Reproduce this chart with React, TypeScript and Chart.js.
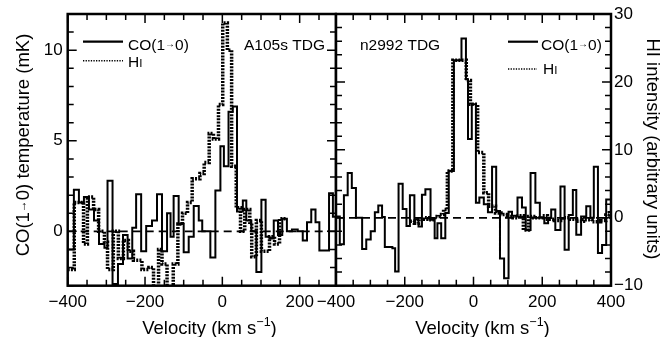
import React, { useEffect, useRef } from "react";
import { Chart, registerables } from "chart.js";

Chart.register(...registerables);

const FONT = "'Liberation Sans', Arial, Helvetica, sans-serif";

// ---------- tick labels ----------
const xTickLabelsLeft = [-400, -200, 0, 200];
const xTickLabelsRight = [-400, -200, 0, 200, 400];
const yTickLabelsLeft = [0, 5, 10];
const yTickLabelsRight = [-10, 0, 10, 20, 30];

// ---------- A105s TDG (left panel, CO temperature in mK) ----------
// channel start velocities (km/s) and values
const a105CoVel = [-400, -384, -371, -358, -345, -332, -319, -305, -297, -284, -270, -257, -245, -233, -223, -210, -197, -182, -169, -156, -143, -134, -126, -113, -100, -87, -74, -61, -52, -31, -18, -5, 4, 16, 27, 38, 53, 62, 75, 88, 101, 112, 122, 133, 144, 155, 167, 180, 195, 208, 219, 230, 241, 251, 276, 286];
const a105CoVal = [-1.0, 2.3, 1.6, 1.9, 1.2, 0.6, -0.7, -0.9, 2.8, -2.9, -1.8, -0.2, -1.5, 0.2, 2.05, -1.1, 0.3, 0.6, 2.05, -1.1, 1.0, -0.3, 1.95, 0.4, -1.15, -0.3, 1.4, 0.6, 0.0, -1.45, 2.25, 4.7, 3.6, 6.6, 6.9, 1.1, 1.7, 0.6, 0.0, -2.25, 1.75, -0.3, -0.4, 0.6, -0.2, 0.7, 0.0, 0.1, 0.0, -0.5, 0.5, 1.2, 0.5, -1.05, 2.1, 0.8];
const a105CoEnd = 294;

const a105HiVel = [-400, -383, -359, -349, -333, -320, -305, -297, -282, -269, -256, -243, -230, -208, -190, -178, -165, -156, -143, -127, -115, -103, -90, -78, -58, -47, -34, -23, -10, 1, 13, 24, 36, 47, 58, 71, 76, 88, 101, 122, 135, 148];
const a105HiVal = [-2.1, 1.6, -0.7, 1.9, 1.2, 0.0, -0.6, -2.1, 0.0, -1.5, -0.5, -1.1, -1.6, -2.1, -2.0, -3.2, -1.0, -1.8, -3.2, -1.8, 0.4, 1.0, 1.6, 2.9, 3.2, 3.8, 5.4, 5.1, 7.0, 11.5, 10.0, 3.6, 1.3, 0.0, 1.2, 0.5, -1.4, 0.6, -1.1, -0.3, -0.7, 0.7];
const a105HiEnd = 165;

// ---------- n2992 TDG (right panel, HI intensity scale) ----------
const n2992CoVel = [-400, -389, -377, -366, -354, -342, -324, -312, -299, -287, -277, -266, -258, -236, -228, -218, -206, -195, -185, -172, -160, -150, -140, -125, -113, -105, -94, -82, -72, -57, -35, -22, -16, -5, 7, 17, 30, 42, 54, 66, 77, 89, 102, 112, 128, 141, 152, 166, 180, 193, 206, 217, 226, 238, 253, 265, 277, 289, 299, 313, 328, 340, 350, 362, 374, 386];
const n2992CoVal = [0.2, -3.9, 3.3, 6.6, 4.4, 0.0, -4.6, -3.2, -2.0, 0.8, 1.8, 0.1, -4.3, -4.5, -7.9, 5.0, 1.3, -1.2, 3.3, -0.2, -1.3, 3.4, 4.2, -0.3, -3.0, -0.8, -3.0, 0.7, 6.9, 23.2, 26.4, 20.4, 11.6, 16.7, 2.2, 3.0, 2.0, 0.8, 7.5, 1.0, -6.0, -8.9, 0.9, 0.3, 3.0, 1.5, -1.8, 6.6, 2.2, 0.0, -0.8, 0.0, 1.2, -1.8, 4.6, -4.7, 0.4, 4.1, -2.5, 0.2, 1.7, 0.0, 7.5, -5.2, -4.0, 2.7];
const n2992CoEnd = 400;

const n2992HiVel = [-185, -172, -160, -148, -136, -124, -112, -100, -87, -76, -60, -21, -9, 12, 30, 44, 64, 80, 98, 115, 130, 145, 160, 175, 200, 215, 235, 260, 280, 300, 320, 345, 370, 385, 395];
const n2992HiVal = [-0.5, -0.8, -0.3, -0.2, 0.0, -0.3, 0.2, 0.5, 1.2, 6.9, 23.2, 20.2, 16.7, 9.6, 3.7, 1.7, 0.7, 0.5, 0.2, 0.0, 0.3, -1.8, 0.2, 0.0, 0.3, -0.2, -0.4, 0.0, -0.2, -0.5, -0.3, -0.6, -0.4, 0.4, 1.0];
const n2992HiEnd = 400;

// ---------- helpers ----------
function stepPoints(vel: number[], val: number[], end: number) {
  const pts = vel.map((v, i) => ({ x: v, y: val[i] }));
  pts.push({ x: end, y: val[val.length - 1] });
  return pts;
}

const fmt = (v: number) => (v < 0 ? "\u2212" + Math.abs(v) : String(v));

type Seg = { t: string; size: number; dy?: number };

function drawRich(ctx: CanvasRenderingContext2D, segs: Seg[], x: number, y: number, align: "left" | "center" | "right") {
  const widths = segs.map((s) => {
    ctx.font = `${s.size}px ${FONT}`;
    return ctx.measureText(s.t).width;
  });
  const total = widths.reduce((a, b) => a + b, 0);
  let cx = align === "center" ? x - total / 2 : align === "right" ? x - total : x;
  ctx.textAlign = "left";
  segs.forEach((s, i) => {
    ctx.font = `${s.size}px ${FONT}`;
    ctx.fillText(s.t, cx, y + (s.dy || 0));
    cx += widths[i];
  });
}

function framePlugin(cfg: { xMinor: number; xMajor: number; yMinor: number; yMajor: number }) {
  return {
    id: "frameTicks",
    afterDatasetsDraw(chart: any) {
      const { ctx, chartArea: a, scales } = chart;
      const xs = scales.x;
      const ys = scales.y;
      ctx.save();
      ctx.strokeStyle = "#000";
      ctx.lineWidth = 1.5;
      ctx.setLineDash([]);
      ctx.beginPath();
      for (let v = Math.ceil(xs.min / cfg.xMinor) * cfg.xMinor; v <= xs.max; v += cfg.xMinor) {
        const px = xs.getPixelForValue(v);
        const len = v % cfg.xMajor === 0 ? 9 : 6;
        ctx.moveTo(px, a.bottom);
        ctx.lineTo(px, a.bottom - len);
        ctx.moveTo(px, a.top);
        ctx.lineTo(px, a.top + len);
      }
      for (let v = Math.ceil(ys.min / cfg.yMinor) * cfg.yMinor; v <= ys.max; v += cfg.yMinor) {
        const py = ys.getPixelForValue(v);
        const len = v % cfg.yMajor === 0 ? 9 : 6;
        ctx.moveTo(a.left, py);
        ctx.lineTo(a.left + len, py);
        ctx.moveTo(a.right, py);
        ctx.lineTo(a.right - len, py);
      }
      ctx.stroke();
      ctx.lineWidth = 2.5;
      ctx.strokeRect(a.left, a.top, a.right - a.left, a.bottom - a.top);
      ctx.restore();
    },
  };
}

function legendRow(ctx: CanvasRenderingContext2D, x0: number, x1: number, y: number, dotted: boolean) {
  ctx.save();
  ctx.strokeStyle = "#000";
  ctx.lineWidth = dotted ? 1.6 : 2.2;
  ctx.setLineDash(dotted ? [1.3, 1.3] : []);
  ctx.beginPath();
  ctx.moveTo(x0, y);
  ctx.lineTo(x1, y);
  ctx.stroke();
  ctx.restore();
}

const coLegend: Seg[] = [
  { t: "CO(1", size: 15.5 },
  { t: "\u2192", size: 10, dy: -3 },
  { t: "0)", size: 15.5 },
];
const hiLegend: Seg[] = [
  { t: "H", size: 15.5 },
  { t: "I", size: 11.5 },
];
const velTitle: Seg[] = [
  { t: "Velocity (km s", size: 18.5 },
  { t: "\u22121", size: 12.5, dy: -8 },
  { t: ")", size: 18.5 },
];

function leftTextPlugin() {
  return {
    id: "leftText",
    afterDraw(chart: any) {
      const ctx: CanvasRenderingContext2D = chart.ctx;
      ctx.save();
      ctx.fillStyle = "#000";
      ctx.textBaseline = "alphabetic";
      legendRow(ctx, 83, 123, 41.7, false);
      legendRow(ctx, 83, 123, 60.7, true);
      drawRich(ctx, coLegend, 128, 50, "left");
      drawRich(ctx, hiLegend, 128, 66.5, "left");
      drawRich(ctx, [{ t: "A105s TDG", size: 15.5 }], 325, 50, "right");
      drawRich(ctx, velTitle, 209.5, 334, "center");
      // rotated y title
      ctx.save();
      ctx.translate(24, 145);
      ctx.rotate(-Math.PI / 2);
      ctx.textBaseline = "middle";
      drawRich(
        ctx,
        [
          { t: "CO(1", size: 18.5 },
          { t: "\u2192", size: 12, dy: -1 },
          { t: "0) temperature (mK)", size: 18.5 },
        ],
        0,
        0,
        "center"
      );
      ctx.restore();
      ctx.restore();
    },
  };
}

const OFF = 296; // left offset of the right-hand canvas on the page
const PANEL_SPLIT = 336; // page x of the shared panel border

function rightTextPlugin() {
  return {
    id: "rightText",
    afterDraw(chart: any) {
      const ctx: CanvasRenderingContext2D = chart.ctx;
      ctx.save();
      ctx.fillStyle = "#000";
      ctx.textBaseline = "alphabetic";
      drawRich(ctx, [{ t: "n2992 TDG", size: 15.5 }], 360 - OFF, 50, "left");
      legendRow(ctx, 508 - OFF, 538 - OFF, 41.7, false);
      legendRow(ctx, 508 - OFF, 537 - OFF, 69, true);
      drawRich(ctx, coLegend, 541 - OFF, 50, "left");
      drawRich(ctx, hiLegend, 543 - OFF, 73.5, "left");
      drawRich(ctx, velTitle, 482.5 - OFF, 334, "center");
      ctx.save();
      ctx.translate(652 - OFF, 149);
      ctx.rotate(Math.PI / 2);
      ctx.textBaseline = "middle";
      drawRich(ctx, [{ t: "HI intensity (arbitrary units)", size: 18.5 }], 0, 0, "center");
      ctx.restore();
      ctx.restore();
    },
  };
}

function baseScale(min: number, max: number, ticks: number[], pad: number, extra: any) {
  return {
    type: "linear",
    min,
    max,
    grid: { display: false, drawTicks: false },
    border: { display: false },
    afterBuildTicks: (s: any) => {
      s.ticks = ticks.map((v) => ({ value: v }));
    },
    ticks: {
      padding: pad,
      autoSkip: false,
      maxRotation: 0,
      color: "#000",
      font: { family: FONT, size: 17 },
      callback: (v: any) => fmt(Number(v)),
    },
    ...extra,
  };
}

function datasets(co: any[], hi: any[], xMin: number, xMax: number) {
  return [
    {
      label: "CO(1\u21920)",
      data: co,
      stepped: "before",
      borderColor: "#000",
      borderWidth: 2,
      pointRadius: 0,
      fill: false,
    },
    {
      label: "HI",
      data: hi,
      stepped: "before",
      borderColor: "#000",
      borderWidth: 3.5,
      borderDash: [2, 1.2],
      pointRadius: 0,
      fill: false,
    },
    {
      label: "zero",
      data: [
        { x: xMin, y: 0 },
        { x: xMax, y: 0 },
      ],
      borderColor: "#000",
      borderWidth: 1.8,
      borderDash: [8, 5],
      pointRadius: 0,
      fill: false,
    },
  ];
}

const noPadX = (s: any) => {
  s.height = 51.3;
  s.paddingLeft = 0;
  s.paddingRight = 0;
};

export default function App() {
  const leftRef = useRef<HTMLCanvasElement>(null);
  const rightRef = useRef<HTMLCanvasElement>(null);

  useEffect(() => {
    const left = new Chart(leftRef.current as HTMLCanvasElement, {
      type: "line",
      data: {
        datasets: datasets(
          stepPoints(a105CoVel, a105CoVal, a105CoEnd),
          stepPoints(a105HiVel, a105HiVal, a105HiEnd),
          -400,
          294
        ) as any,
      },
      options: {
        responsive: false,
        animation: false,
        devicePixelRatio: 1,
        layout: { padding: { top: 14, right: 1, left: 0, bottom: 0 } },
        plugins: { legend: { display: false }, tooltip: { enabled: false } },
        scales: {
          x: baseScale(-400, 294, xTickLabelsLeft, 6, { afterFit: noPadX }),
          y: baseScale(-3, 12, yTickLabelsLeft, 5, {
            afterFit: (s: any) => {
              s.width = 67.7;
              s.paddingTop = 0;
              s.paddingBottom = 0;
            },
          }),
        } as any,
      },
      plugins: [framePlugin({ xMinor: 50, xMajor: 200, yMinor: 1, yMajor: 5 }), leftTextPlugin()],
    });

    const right = new Chart(rightRef.current as HTMLCanvasElement, {
      type: "line",
      data: {
        datasets: datasets(
          stepPoints(n2992CoVel, n2992CoVal, n2992CoEnd),
          stepPoints(n2992HiVel, n2992HiVal, n2992HiEnd),
          -400,
          400
        ) as any,
      },
      options: {
        responsive: false,
        animation: false,
        devicePixelRatio: 1,
        layout: { padding: { top: 14, right: 0, left: PANEL_SPLIT - OFF, bottom: 0 } },
        plugins: { legend: { display: false }, tooltip: { enabled: false } },
        scales: {
          x: baseScale(-400, 400, xTickLabelsRight, 6, { afterFit: noPadX }),
          y: baseScale(-10, 30, yTickLabelsRight, 3, {
            position: "right",
            afterFit: (s: any) => {
              s.width = 50;
              s.paddingTop = 0;
              s.paddingBottom = 0;
            },
          }),
        } as any,
      },
      plugins: [framePlugin({ xMinor: 50, xMajor: 200, yMinor: 2, yMajor: 10 }), rightTextPlugin()],
    });

    return () => {
      left.destroy();
      right.destroy();
    };
  }, []);

  return (
    <div style={{ position: "fixed", left: 0, top: 0, width: 661, height: 337, background: "#fff" }}>
      <canvas ref={leftRef} width={337} height={337} style={{ position: "absolute", left: 0, top: 0 }} />
      <canvas ref={rightRef} width={661 - OFF} height={337} style={{ position: "absolute", left: OFF, top: 0 }} />
    </div>
  );
}
